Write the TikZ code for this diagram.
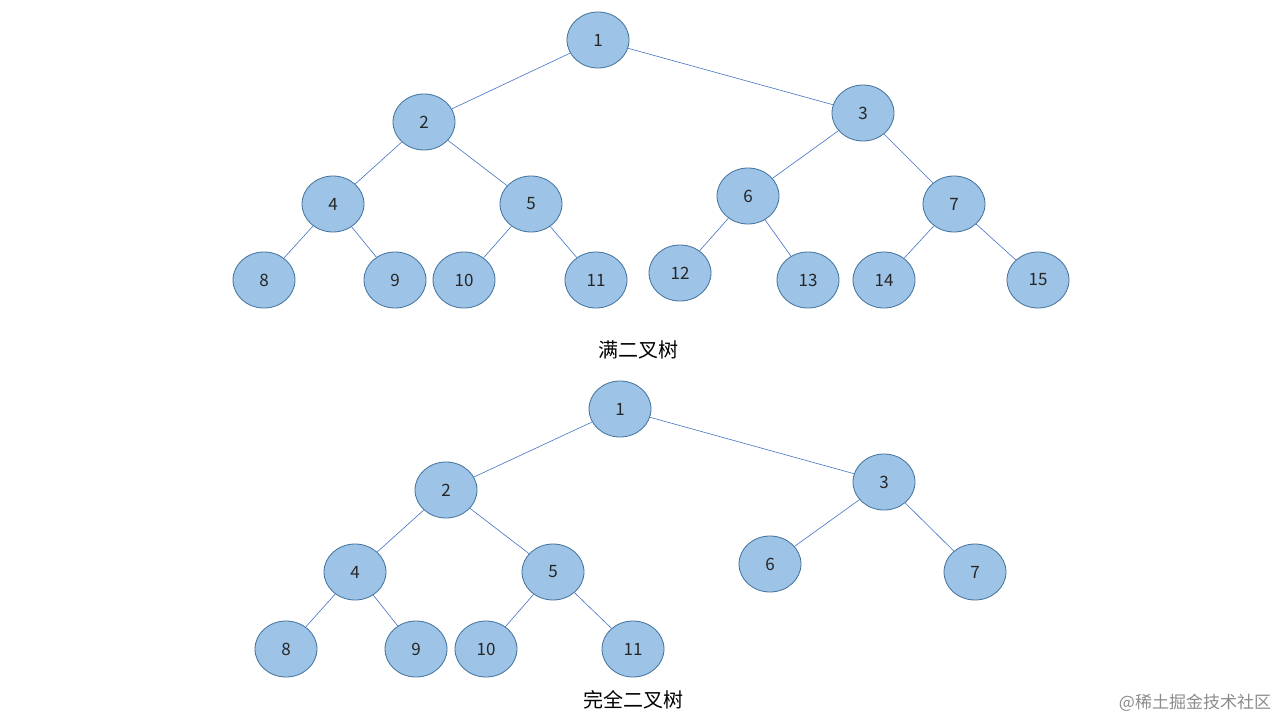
\documentclass[tikz,border=0pt]{standalone}
\usepackage{fontspec}
\setmainfont{Noto Sans CJK SC}
\usetikzlibrary{shapes.geometric}
\definecolor{nfill}{HTML}{9DC3E6}
\definecolor{ndraw}{HTML}{41719C}
\definecolor{edge}{HTML}{4472C4}
\tikzset{tn/.style={ellipse,draw=ndraw,fill=nfill,line width=0.8pt,minimum width=62pt,minimum height=56pt,inner sep=0pt,font=\fontsize{17}{17}\selectfont,text=black!85},
ed/.style={draw=edge,line width=0.6pt}}
\begin{document}
\begin{tikzpicture}[x=1pt,y=-1pt]
\useasboundingbox[fill=white] (0,0) rectangle (1280,720);
% full tree
\foreach \n/\x/\y in {1/598/40,2/424/122,3/863/113,4/333/204,5/531/204,6/748/196,7/954/204,8/264/280,9/395/280,10/464/280,11/596/280,12/680/273,13/808/280,14/884/280,15/1038/280}
  \node[tn] (a\n) at (\x,\y) {\n};
\foreach \p/\c in {1/2,1/3,2/4,2/5,3/6,3/7,4/8,4/9,5/10,5/11,6/12,6/13,7/14,7/15}
  \draw[ed] (a\p) -- (a\c);
\node (c1) at (638,350) {\fontsize{20}{20}\selectfont 满二叉树};
% complete tree
\foreach \n/\x/\y in {1/620/409,2/446/490,3/884/482,4/355/572,5/553/572,6/770/564,7/975/572,8/286/649,9/416/649,10/486/649,11/633/649}
  \node[tn] (b\n) at (\x,\y) {\n};
\foreach \p/\c in {1/2,1/3,2/4,2/5,3/6,3/7,4/8,4/9,5/10,5/11}
  \draw[ed] (b\p) -- (b\c);
\node (c2) at (633,700) {\fontsize{20}{20}\selectfont 完全二叉树};
\node[text=black!45] (wm) at (1195,703) {\fontsize{17}{17}\selectfont @稀土掘金技术社区};
\end{tikzpicture}
\end{document}
